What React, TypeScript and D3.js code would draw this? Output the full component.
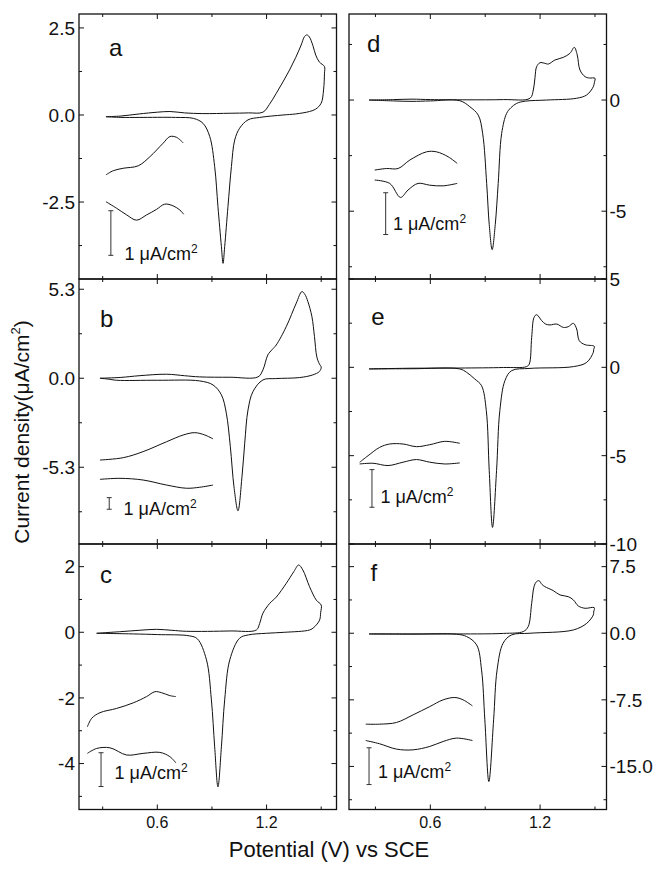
import React from "react";
import * as d3 from "d3";

type Pt = [number, number];

// potential (V) vs current density; each loop = forward scan then reverse scan
const aLoop: Pt[] = [
  [0.318, -0.05], [0.4, -0.03], [0.5, 0.03], [0.6, 0.08], [0.669, 0.1], [0.75, 0.06], [0.85, 0.04], [1.0, 0.05],
  [1.1, 0.06], [1.18, 0.08], [1.215, 0.3], [1.253, 0.62], [1.29, 0.95], [1.326, 1.29], [1.36, 1.65], [1.39, 2.01],
  [1.408, 2.25], [1.421, 2.3], [1.434, 2.25], [1.454, 2.0], [1.47, 1.72], [1.49, 1.52], [1.518, 1.39],
  [1.518, 1.2], [1.513, 0.72], [1.5, 0.34], [1.47, 0.17], [1.436, 0.1], [1.36, 0.03], [1.29, 0.0], [1.162, -0.07],
  [1.098, -0.14], [1.052, -0.38], [1.025, -0.72], [1.007, -1.48], [0.988, -2.63], [0.97, -3.78], [0.961, -4.26],
  [0.952, -3.78], [0.933, -2.63], [0.915, -1.48], [0.888, -0.62], [0.851, -0.24], [0.8, -0.1], [0.7, -0.07],
  [0.5, -0.07], [0.4, -0.07], [0.318, -0.05],
];
const aInsetUpper: Pt[] = [
  [0.318, -1.72], [0.358, -1.6], [0.413, -1.53], [0.495, -1.46], [0.559, -1.2], [0.632, -0.81], [0.669, -0.62],
  [0.705, -0.64], [0.742, -0.8],
];
const aInsetLower: Pt[] = [
  [0.318, -2.49], [0.377, -2.68], [0.432, -2.87], [0.486, -3.02], [0.541, -2.87], [0.596, -2.71], [0.641, -2.56],
  [0.687, -2.61], [0.724, -2.73], [0.745, -2.85],
];
const aBar = [0.345, -2.75, -4.03];
const aBarLabel: Pt = [0.42, -4.17];
const aLetter: Pt = [0.335, 1.7];

const bLoop: Pt[] = [
  [0.285, 0], [0.4, 0.05], [0.5, 0.15], [0.651, 0.24], [0.75, 0.15], [0.833, 0.08], [1.0, 0.06], [1.153, 0.08],
  [1.18, 0.5], [1.207, 1.39], [1.23, 1.7], [1.253, 1.98], [1.308, 3.07], [1.363, 4.47], [1.394, 5.16], [1.41, 5.0],
  [1.427, 4.56], [1.449, 3.67], [1.463, 2.48], [1.476, 1.27], [1.49, 0.85], [1.5, 0.66],
  [1.49, 0.4], [1.454, 0.2], [1.381, 0.04], [1.25, -0.02], [1.18, -0.1], [1.125, -0.8], [1.098, -1.89],
  [1.08, -3.87], [1.065, -5.86], [1.043, -7.89], [1.021, -6.46], [1.001, -4.07], [0.979, -2.08], [0.952, -0.99],
  [0.906, -0.4], [0.833, -0.16], [0.6, -0.12], [0.377, -0.12], [0.33, -0.05], [0.285, 0],
];
const bInsetUpper: Pt[] = [
  [0.285, -4.87], [0.413, -4.73], [0.522, -4.37], [0.651, -3.78], [0.742, -3.38], [0.806, -3.24], [0.861, -3.38],
  [0.906, -3.61],
];
const bInsetLower: Pt[] = [
  [0.285, -6.02], [0.395, -5.96], [0.522, -6.06], [0.651, -6.36], [0.76, -6.55], [0.833, -6.49], [0.906, -6.36],
];
const bBar = [0.336, -7.11, -7.8];
const bBarLabel: Pt = [0.415, -8.14];
const bLetter: Pt = [0.285, 3.04];

const cLoop: Pt[] = [
  [0.267, -0.03], [0.4, 0.02], [0.5, 0.06], [0.596, 0.09], [0.68, 0.06], [0.76, 0.03], [1.0, 0.04], [1.144, 0.07],
  [1.162, 0.27], [1.18, 0.58], [1.217, 0.88], [1.253, 1.07], [1.308, 1.49], [1.35, 1.85], [1.376, 2.05],
  [1.399, 1.9], [1.436, 1.39], [1.473, 0.98], [1.5, 0.83],
  [1.497, 0.6], [1.491, 0.37], [1.46, 0.15], [1.436, 0.07], [1.3, 0.0], [1.199, -0.03], [1.1, -0.08],
  [1.052, -0.18], [0.998, -0.84], [0.97, -2.06], [0.952, -3.49], [0.933, -4.71], [0.915, -3.49], [0.897, -2.06],
  [0.87, -0.84], [0.82, -0.2], [0.778, -0.11], [0.6, -0.07], [0.468, -0.05], [0.267, -0.03],
];
const cInsetUpper: Pt[] = [
  [0.216, -2.88], [0.24, -2.62], [0.285, -2.45], [0.377, -2.32], [0.468, -2.15], [0.541, -1.96], [0.587, -1.81],
  [0.623, -1.84], [0.669, -1.93], [0.702, -1.96],
];
const cInsetLower: Pt[] = [
  [0.216, -3.69], [0.267, -3.54], [0.34, -3.52], [0.432, -3.74], [0.522, -3.69], [0.614, -3.66], [0.669, -3.79],
  [0.702, -3.98],
];
const cBar = [0.291, -3.67, -4.7];
const cBarLabel: Pt = [0.365, -4.48];
const cLetter: Pt = [0.285, 1.49];

const dLoop: Pt[] = [
  [0.265, 0], [0.4, 0.02], [0.5, 0.04], [0.6, 0.02], [0.8, 0.01], [1.0, 0.02], [1.145, 0.08], [1.163, 0.45],
  [1.172, 1.0], [1.181, 1.5], [1.2, 1.68], [1.222, 1.66], [1.245, 1.62], [1.281, 1.8], [1.327, 1.92], [1.363, 2.1],
  [1.387, 2.37], [1.403, 2.03], [1.418, 1.35], [1.446, 1.05], [1.47, 0.99], [1.5, 0.98],
  [1.497, 0.8], [1.491, 0.6], [1.455, 0.23], [1.4, 0.08], [1.236, 0], [1.12, -0.05], [1.072, -0.15],
  [1.04, -0.35], [1.017, -0.6], [0.99, -1.5], [0.971, -3.75], [0.955, -5.6], [0.938, -6.73], [0.922, -5.6],
  [0.908, -3.75], [0.886, -1.5], [0.862, -0.68], [0.816, -0.3], [0.761, -0.03], [0.6, -0.04], [0.5, -0.06],
  [0.4, -0.04], [0.265, 0],
];
const dInsetUpper: Pt[] = [
  [0.296, -3.15], [0.36, -3.08], [0.424, -3.08], [0.488, -2.7], [0.579, -2.33], [0.634, -2.33], [0.697, -2.55],
  [0.747, -2.85],
];
const dInsetLower: Pt[] = [
  [0.296, -3.6], [0.378, -3.75], [0.437, -4.38], [0.478, -4.05], [0.533, -3.75], [0.597, -3.83], [0.67, -3.86],
  [0.747, -3.75],
];
const dBar = [0.356, -4.17, -6.05];
const dBarLabel: Pt = [0.396, -5.86];
const dLetter: Pt = [0.254, 2.18];

const eLoop: Pt[] = [
  [0.265, -0.09], [0.5, -0.05], [0.761, -0.04], [1.0, -0.01], [1.126, 0.04], [1.141, 0.19], [1.154, 1.7],
  [1.167, 2.83], [1.181, 2.98], [1.209, 2.64], [1.23, 2.45], [1.254, 2.4], [1.291, 2.45], [1.327, 2.26],
  [1.354, 2.3], [1.382, 2.49], [1.4, 2.17], [1.414, 1.51], [1.446, 1.28], [1.496, 1.19],
  [1.493, 1.0], [1.491, 0.85], [1.455, 0.28], [1.382, 0.04], [1.145, -0.06], [1.044, -0.19], [1.008, -0.75],
  [0.98, -2.45], [0.962, -5.85], [0.94, -9.06], [0.922, -5.85], [0.906, -2.45], [0.88, -1.04], [0.843, -0.66],
  [0.798, -0.28], [0.761, -0.09], [0.5, -0.08], [0.265, -0.09],
];
const eInsetUpper: Pt[] = [
  [0.214, -5.37], [0.26, -5.0], [0.323, -4.53], [0.378, -4.34], [0.451, -4.34], [0.524, -4.49], [0.597, -4.38],
  [0.679, -4.19], [0.761, -4.3],
];
const eInsetLower: Pt[] = [
  [0.214, -5.47], [0.287, -5.43], [0.369, -5.56], [0.451, -5.37], [0.524, -5.22], [0.597, -5.37], [0.679, -5.47],
  [0.761, -5.41],
];
const eBar = [0.281, -5.79, -7.92];
const eBarLabel: Pt = [0.327, -7.7];
const eLetter: Pt = [0.277, 2.39];

const fLoop: Pt[] = [
  [0.265, -0.08], [0.5, -0.08], [0.707, -0.08], [1.0, -0.02], [1.108, 0.19], [1.135, 0.75], [1.154, 3.37],
  [1.167, 5.25], [1.18, 5.8], [1.194, 5.92], [1.21, 5.5], [1.226, 5.25], [1.272, 4.8], [1.309, 4.31],
  [1.354, 4.12], [1.382, 3.75], [1.409, 3.07], [1.446, 2.81], [1.496, 2.88],
  [1.493, 2.4], [1.491, 2.06], [1.455, 1.12], [1.382, 0.37], [1.145, 0], [1.044, -0.19], [0.998, -1.12],
  [0.965, -4.13], [0.946, -9.75], [0.92, -16.7], [0.898, -9.75], [0.88, -4.13], [0.853, -1.31], [0.798, -0.37],
  [0.743, -0.11], [0.5, -0.1], [0.265, -0.08],
];
const fInsetUpper: Pt[] = [
  [0.247, -10.24], [0.323, -10.24], [0.415, -10.05], [0.506, -9.19], [0.597, -8.26], [0.67, -7.5], [0.734, -7.24],
  [0.779, -7.5], [0.83, -8.18],
];
const fInsetLower: Pt[] = [
  [0.247, -12.08], [0.323, -12.45], [0.415, -13.05], [0.506, -13.13], [0.597, -12.75], [0.67, -12.19],
  [0.743, -11.81], [0.83, -12.08],
];
const fBar = [0.265, -12.9, -17.04];
const fBarLabel: Pt = [0.314, -16.33];
const fLetter: Pt = [0.273, 5.89];

const xMajorTicks = [0.6, 1.2];
const xMinorTicks = [0.3, 0.9, 1.5];

const panels = [
  { key: "a", col: 0, row: 0, yDomain: [-4.71, 2.9], step: 2.5, dec: 1, loop: aLoop, insets: [aInsetUpper, aInsetLower], bar: aBar, barLabel: aBarLabel, letter: aLetter },
  { key: "b", col: 0, row: 1, yDomain: [-9.87, 5.91], step: 5.3, dec: 1, loop: bLoop, insets: [bInsetUpper, bInsetLower], bar: bBar, barLabel: bBarLabel, letter: bLetter },
  { key: "c", col: 0, row: 2, yDomain: [-5.4, 2.69], step: 2, dec: 0, loop: cLoop, insets: [cInsetUpper, cInsetLower], bar: cBar, barLabel: cBarLabel, letter: cLetter },
  { key: "d", col: 1, row: 0, yDomain: [-8.05, 3.87], step: 5, dec: 0, loop: dLoop, insets: [dInsetUpper, dInsetLower], bar: dBar, barLabel: dBarLabel, letter: dLetter },
  { key: "e", col: 1, row: 1, yDomain: [-10, 5], step: 5, dec: 0, loop: eLoop, insets: [eInsetUpper, eInsetLower], bar: eBar, barLabel: eBarLabel, letter: eLetter },
  { key: "f", col: 1, row: 2, yDomain: [-19.85, 10.05], step: 7.5, dec: 1, loop: fLoop, insets: [fInsetUpper, fInsetLower], bar: fBar, barLabel: fBarLabel, letter: fLetter },
];

// layout
const W = 659;
const H = 870;
const colX = [[79, 336.5], [349, 606.5]];
const rowY = [[14, 279], [279, 544], [544, 809.5]];
const xDomains = [[0.17, 1.584], [0.1555, 1.563]];
const FONT = "'Liberation Sans', Arial, Helvetica, sans-serif";
const INK = "#111";

function fmt(v: number, dec: number) {
  return (Math.abs(v) < 1e-9 ? 0 : v).toFixed(dec);
}

function Panel({ p }: { p: (typeof panels)[number] }) {
  const [x0, x1] = colX[p.col];
  const [y0, y1] = rowY[p.row];
  const x = d3.scaleLinear().domain(xDomains[p.col]).range([x0, x1]);
  const y = d3.scaleLinear().domain(p.yDomain).range([y1, y0]);
  const line = d3.line<Pt>().x(d => x(d[0])).y(d => y(d[1])).curve(d3.curveCatmullRom.alpha(0.5));

  const eps = 1e-6;
  const [lo, hi] = p.yDomain;
  const major = d3.range(Math.ceil((lo - eps) / p.step), Math.floor((hi + eps) / p.step) + 1).map(k => k * p.step);
  const minor = d3.range(Math.ceil(lo / p.step - 0.5), Math.floor(hi / p.step - 0.5) + 1)
    .map(k => (k + 0.5) * p.step).filter(v => v > lo && v < hi);

  const bigT = 5;
  const smallT = 3;
  const bx = x(p.bar[0]);

  return (
    <g>
      {p.insets.map((ins, i) => (
        <path key={i} d={line(ins) || ""} fill="none" stroke={INK} strokeWidth={1} />
      ))}
      <path d={line(p.loop) || ""} fill="none" stroke={INK} strokeWidth={1} />

      {/* scale bar */}
      <g stroke="#333" strokeWidth={1}>
        <line x1={bx} x2={bx} y1={y(p.bar[1])} y2={y(p.bar[2])} />
        <line x1={bx - 2.5} x2={bx + 2.5} y1={y(p.bar[1])} y2={y(p.bar[1])} />
        <line x1={bx - 2.5} x2={bx + 2.5} y1={y(p.bar[2])} y2={y(p.bar[2])} />
      </g>
      <text x={x(p.barLabel[0])} y={y(p.barLabel[1])} fontSize={18} fontFamily={FONT} fill={INK}>
        1 μA/cm<tspan fontSize={12} dy={-7}>2</tspan>
      </text>

      <text x={x(p.letter[0])} y={y(p.letter[1])} fontSize={24} fontFamily={FONT} fill={INK}>{p.key}</text>

      {/* ticks on all four sides, pointing inward */}
      <g stroke={INK} strokeWidth={1}>
        {xMajorTicks.map(v => (
          <g key={"xM" + v}>
            <line x1={x(v)} x2={x(v)} y1={y1} y2={y1 - bigT} />
            <line x1={x(v)} x2={x(v)} y1={y0} y2={y0 + bigT} />
          </g>
        ))}
        {xMinorTicks.map(v => (
          <g key={"xm" + v}>
            <line x1={x(v)} x2={x(v)} y1={y1} y2={y1 - smallT} />
            <line x1={x(v)} x2={x(v)} y1={y0} y2={y0 + smallT} />
          </g>
        ))}
        {major.map(v => (
          <g key={"yM" + v}>
            <line x1={x0} x2={x0 + bigT} y1={y(v)} y2={y(v)} />
            <line x1={x1} x2={x1 - bigT} y1={y(v)} y2={y(v)} />
          </g>
        ))}
        {minor.map(v => (
          <g key={"ym" + v}>
            <line x1={x0} x2={x0 + smallT} y1={y(v)} y2={y(v)} />
            <line x1={x1} x2={x1 - smallT} y1={y(v)} y2={y(v)} />
          </g>
        ))}
      </g>

      <rect x={x0} y={y0} width={x1 - x0} height={y1 - y0} fill="none" stroke={INK} strokeWidth={1.3} />

      {/* y tick labels on the outer side */}
      {major.map(v => (
        <text
          key={"yl" + v}
          x={p.col === 0 ? x0 - 4 : x1 + 3}
          y={y(v)}
          dy="0.36em"
          textAnchor={p.col === 0 ? "end" : "start"}
          fontSize={19}
          fontFamily={FONT}
          fill={INK}
        >
          {fmt(v, p.dec)}
        </text>
      ))}

      {/* x tick labels on the bottom row */}
      {p.row === 2 && xMajorTicks.map(v => (
        <text key={"xl" + v} x={x(v)} y={828} textAnchor="middle" fontSize={16} fontFamily={FONT} fill={INK}>
          {fmt(v, 1)}
        </text>
      ))}
    </g>
  );
}

export default function App() {
  return (
    <svg width={W} height={H} style={{ position: "absolute", left: 0, top: 0, background: "#fff" }}>
      {panels.map(p => <Panel key={p.key} p={p} />)}
      <text
        transform="translate(29,432) rotate(-90)"
        textAnchor="middle"
        fontSize={21}
        fontFamily={FONT}
        fill={INK}
      >
        Current density(μA/cm<tspan fontSize={13} dy={-9}>2</tspan><tspan dy={9}>)</tspan>
      </text>
      <text x={329} y={857} textAnchor="middle" fontSize={22} fontFamily={FONT} fill={INK}>
        Potential (V) vs SCE
      </text>
    </svg>
  );
}
